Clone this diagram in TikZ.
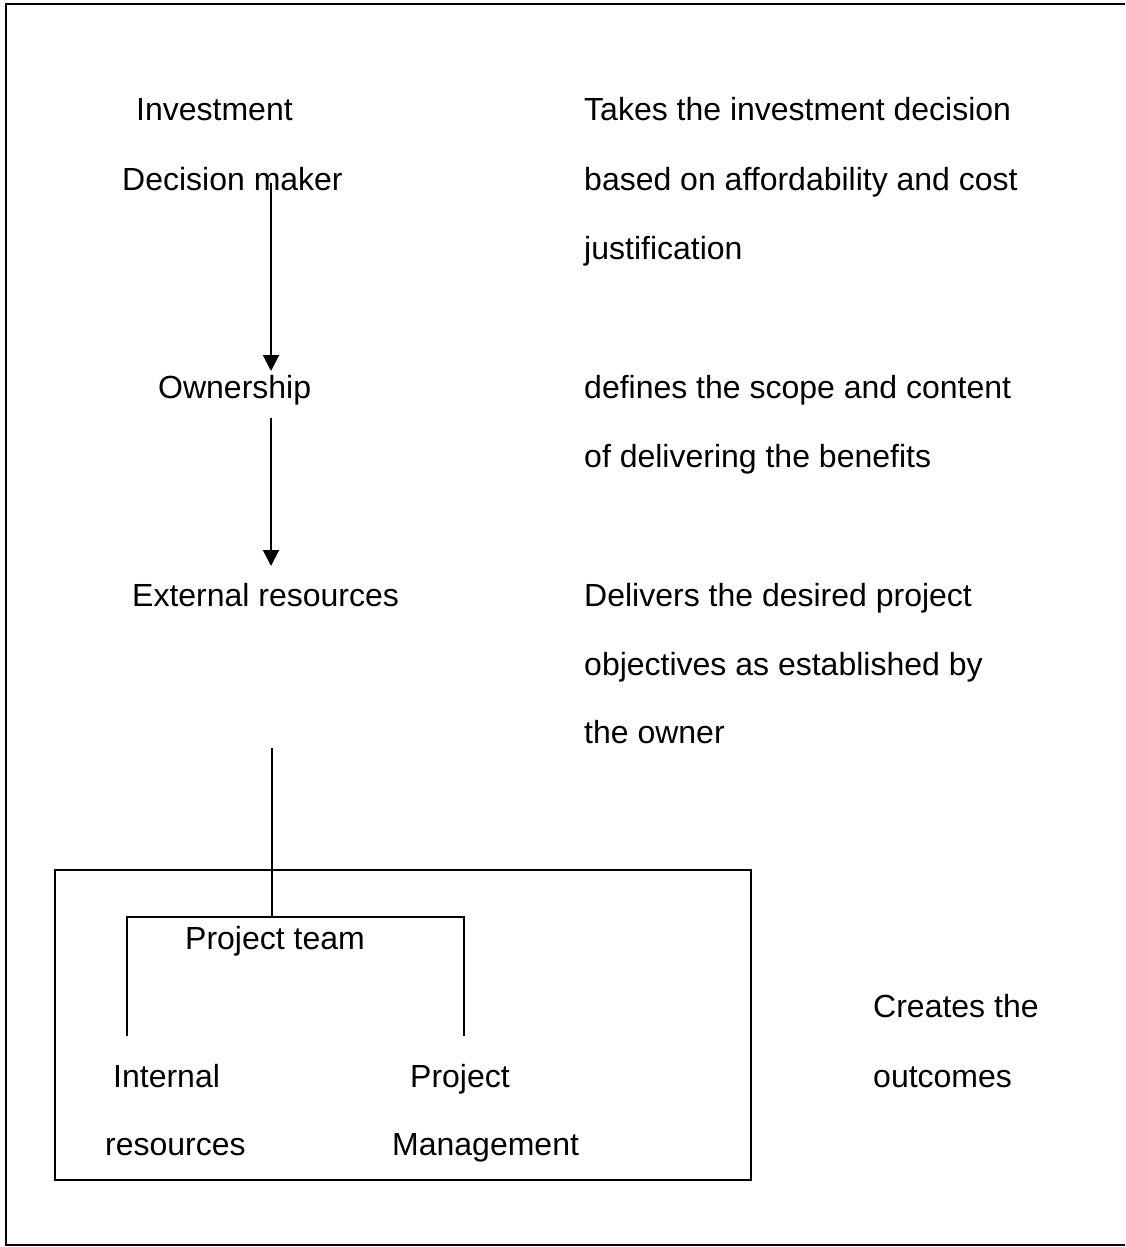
\documentclass[tikz,border=0pt]{standalone}
\usepackage{fontspec}
\setmainfont{Liberation Sans}
\usetikzlibrary{arrows.meta}
\begin{document}
\begin{tikzpicture}[x=1pt,y=-1pt,
  txt/.style={anchor=base west,inner sep=0pt,font=\fontsize{32}{38}\selectfont},
  ln/.style={line width=2pt},
  arr/.style={line width=2pt,-{Triangle[width=16pt,length=16pt]}}]
\useasboundingbox (0,0) rectangle (1125,1247);
% outer frame (right edge cut off)
\draw[line width=2.5pt] (1125,4) -- (6,4) -- (6,1245) -- (1125,1245);
% left column
\node[txt] (inv) at (136,120) {Investment};
\node[txt] (dm) at (122,190) {Decision maker};
\node[txt] (own) at (158,398) {Ownership};
\node[txt] (ext) at (132,606) {External resources};
% right column
\node[txt] (r1) at (584,120) {Takes the investment decision};
\node[txt] (r2) at (584,190) {based on affordability and cost};
\node[txt] (r3) at (584,259) {justification};
\node[txt] (r4) at (584,398) {defines the scope and content};
\node[txt] (r5) at (584,467) {of delivering the benefits};
\node[txt] (r6) at (584,606) {Delivers the desired project};
\node[txt] (r7) at (584,675) {objectives as established by};
\node[txt] (r8) at (584,743) {the owner};
% project team block
\node[txt] (pt) at (185,949) {Project team};
\node[txt] (ir1) at (113,1087) {Internal};
\node[txt] (ir2) at (105,1155) {resources};
\node[txt] (pm1) at (410,1087) {Project};
\node[txt] (pm2) at (392,1155) {Management};
\node[txt] (cr1) at (873,1017) {Creates the};
\node[txt] (cr2) at (873,1087) {outcomes};
% connectors
\coordinate (a1s) at (271,183);
\coordinate (a1e) at (271,371);
\coordinate (a2s) at (271,418);
\coordinate (a2e) at (271,566);
\coordinate (l3s) at (272,748);
\coordinate (l3e) at (272,917);
\draw[arr] (a1s) -- (a1e);
\draw[arr] (a2s) -- (a2e);
\draw[ln] (l3s) -- (l3e);
% bracket
\coordinate (bl) at (127,1036);
\coordinate (br) at (464,1036);
\draw[ln] (bl) -- (127,917) -- (464,917) -- (br);
% outer box
\draw[ln] (55,870) rectangle (751,1180);
\end{tikzpicture}
\end{document}
